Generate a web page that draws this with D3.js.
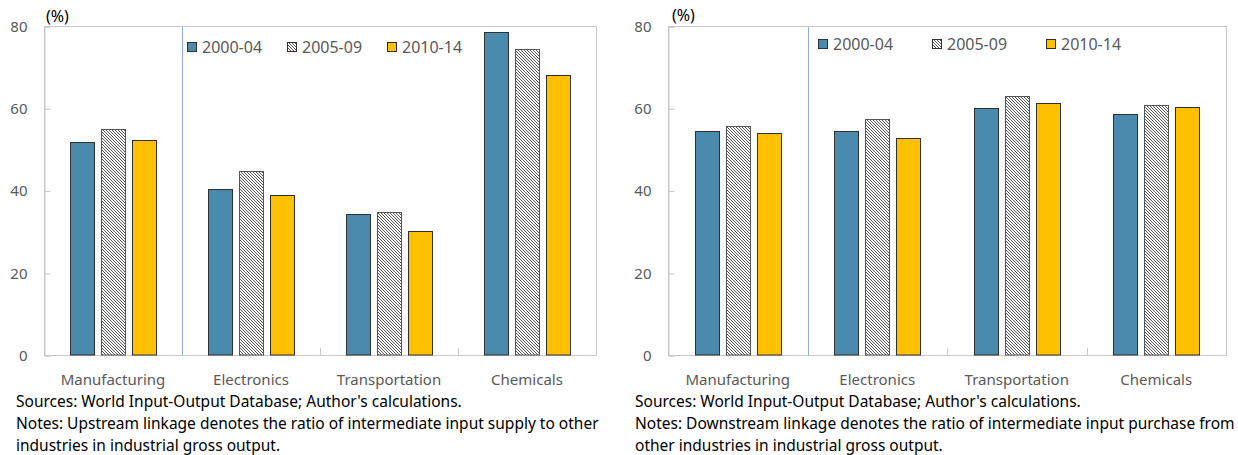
<!DOCTYPE html>
<html>
<head>
<meta charset="utf-8">
<script src="https://cdn.jsdelivr.net/npm/d3@7"></script>
<style>
  html, body { margin: 0; padding: 0; background: #fff; }
  svg { display: block; }
  text { font-family: "Noto Sans", "Open Sans", sans-serif; }
</style>
</head>
<body>
<svg id="chart" width="1238" height="455"></svg>
<script>
const categories = ["Manufacturing", "Electronics", "Transportation", "Chemicals"];
const seriesNames = ["2000-04", "2005-09", "2010-14"];
const yTicks = [0, 20, 40, 60, 80];

const upstream2000 = [51.9, 40.4, 34.4, 78.6];
const upstream2005 = [55.0, 44.7, 34.7, 74.3];
const upstream2010 = [52.2, 39.0, 30.2, 68.1];

const downstream2000 = [54.4, 54.4, 60.1, 58.7];
const downstream2005 = [55.7, 57.3, 63.1, 60.7];
const downstream2010 = [53.9, 52.7, 61.2, 60.4];

const sourcesText = "Sources: World Input-Output Database; Author's calculations.";
const upstreamNotes = ["Notes: Upstream linkage denotes the ratio of intermediate input supply to other",
                       "industries in industrial gross output."];
const downstreamNotes = ["Notes: Downstream linkage denotes the ratio of intermediate input purchase from",
                         "other industries in industrial gross output."];

const svg = d3.select("#chart");
const defs = svg.append("defs");
const pat = defs.append("pattern")
  .attr("id", "hatch").attr("patternUnits", "userSpaceOnUse")
  .attr("width", 3).attr("height", 3);
pat.append("rect").attr("width", 3).attr("height", 3).attr("fill", "#ffffff");
pat.append("path").attr("d", "M-1,-1 L4,4 M-1,2 L1,4 M2,-1 L4,1")
  .attr("stroke", "#555555").attr("stroke-width", 1);

const fills = ["#4a8aad", "url(#hatch)", "#ffc000"];
const strokes = ["#303030", "#555555", "#303030"];

function drawPanel(cfg) {
  const g = svg.append("g");
  const x = d3.scaleBand().domain(categories).range([cfg.x0, cfg.x1]).paddingInner(0).paddingOuter(0);
  const xi = d3.scaleBand().domain(seriesNames).range([0, x.bandwidth()]).paddingInner(0.22).paddingOuter(0.86);
  const y = d3.scaleLinear().domain([0, 80]).range([cfg.bottom, cfg.top]);

  // plot border
  g.append("rect").attr("x", cfg.x0 + 0.5).attr("y", y(80) + 0.5)
    .attr("width", cfg.x1 - cfg.x0).attr("height", y(0) - y(80))
    .attr("fill", "none").attr("stroke", "#c8c8c8").attr("stroke-width", 1);

  // y axis
  const ya = g.append("g").attr("transform", `translate(${cfg.x0 + 0.5},0.5)`)
    .call(d3.axisLeft(y).tickValues(yTicks).tickSize(-6).tickPadding(17));
  ya.select(".domain").attr("stroke", "#c8c8c8");
  ya.selectAll(".tick line").attr("stroke", "#c8c8c8");
  ya.selectAll(".tick text").attr("fill", "#595959").style("font-size", "15px")
    .style("font-family", '"Noto Sans", sans-serif');

  // category boundary ticks
  const bounds = categories.slice(1).map(c => x(c));
  g.selectAll(".bt").data(bounds).join("line")
    .attr("x1", d => Math.round(d) + 0.5).attr("x2", d => Math.round(d) + 0.5)
    .attr("y1", y(0)).attr("y2", y(0) - 7)
    .attr("stroke", "#c8c8c8");

  // vertical blue separator
  g.append("line")
    .attr("x1", Math.round(x(categories[1])) + 0.5).attr("x2", Math.round(x(categories[1])) + 0.5)
    .attr("y1", y(80) + 1).attr("y2", y(0))
    .attr("stroke", "#8eaadc").attr("stroke-width", 1);

  // x axis labels
  const xa = g.append("g").attr("transform", `translate(0,${cfg.bottom})`)
    .call(d3.axisBottom(x).tickSize(0).tickPadding(19));
  xa.select(".domain").remove();
  xa.selectAll(".tick text").attr("fill", "#595959").style("font-size", "15px")
    .style("font-family", '"Noto Sans", sans-serif');

  // bars
  cfg.values.forEach((vals, si) => {
    g.selectAll(".bar" + si).data(vals).join("rect")
      .attr("x", (d, i) => Math.round(x(categories[i]) + xi(seriesNames[si])) + 0.5)
      .attr("y", d => Math.round(y(d)) + 0.5)
      .attr("width", Math.round(xi.bandwidth()))
      .attr("height", d => y(0) - Math.round(y(d)) - 0.5)
      .attr("fill", fills[si]).attr("stroke", strokes[si]).attr("stroke-width", 1);
  });

  // unit label
  g.append("text").attr("x", cfg.x0 + cfg.unitDx).attr("y", cfg.unitY)
    .attr("fill", "#000").style("font-size", "16px").text("(%)");

  // legend
  const lg = g.append("g");
  seriesNames.forEach((s, i) => {
    const lx = cfg.legX + i * cfg.legStep;
    lg.append("rect").attr("x", lx + 0.5).attr("y", cfg.legY + 0.5).attr("width", 9).attr("height", 9)
      .attr("fill", fills[i]).attr("stroke", "#303030");
    lg.append("text").attr("x", lx + 15).attr("y", cfg.legY + 11)
      .attr("fill", "#595959").style("font-size", "16px").text(s);
  });

  // notes
  const lines = [sourcesText].concat(cfg.notes);
  lines.forEach((t, i) => {
    g.append("text").attr("x", cfg.noteX).attr("y", 407 + i * 22)
      .attr("fill", "#000").style("font-size", "15.5px").text(t);
  });
}

drawPanel({
  x0: 44, x1: 596, top: 26, bottom: 355,
  values: [upstream2000, upstream2005, upstream2010],
  legX: 187, legStep: 100, legY: 42,
  unitDx: 2, unitY: 22,
  notes: upstreamNotes, noteX: 16
});
drawPanel({
  x0: 668, x1: 1226, top: 26, bottom: 355,
  values: [downstream2000, downstream2005, downstream2010],
  legX: 818, legStep: 114, legY: 39,
  unitDx: 4, unitY: 21,
  notes: downstreamNotes, noteX: 635
});
</script>
</body>
</html>
